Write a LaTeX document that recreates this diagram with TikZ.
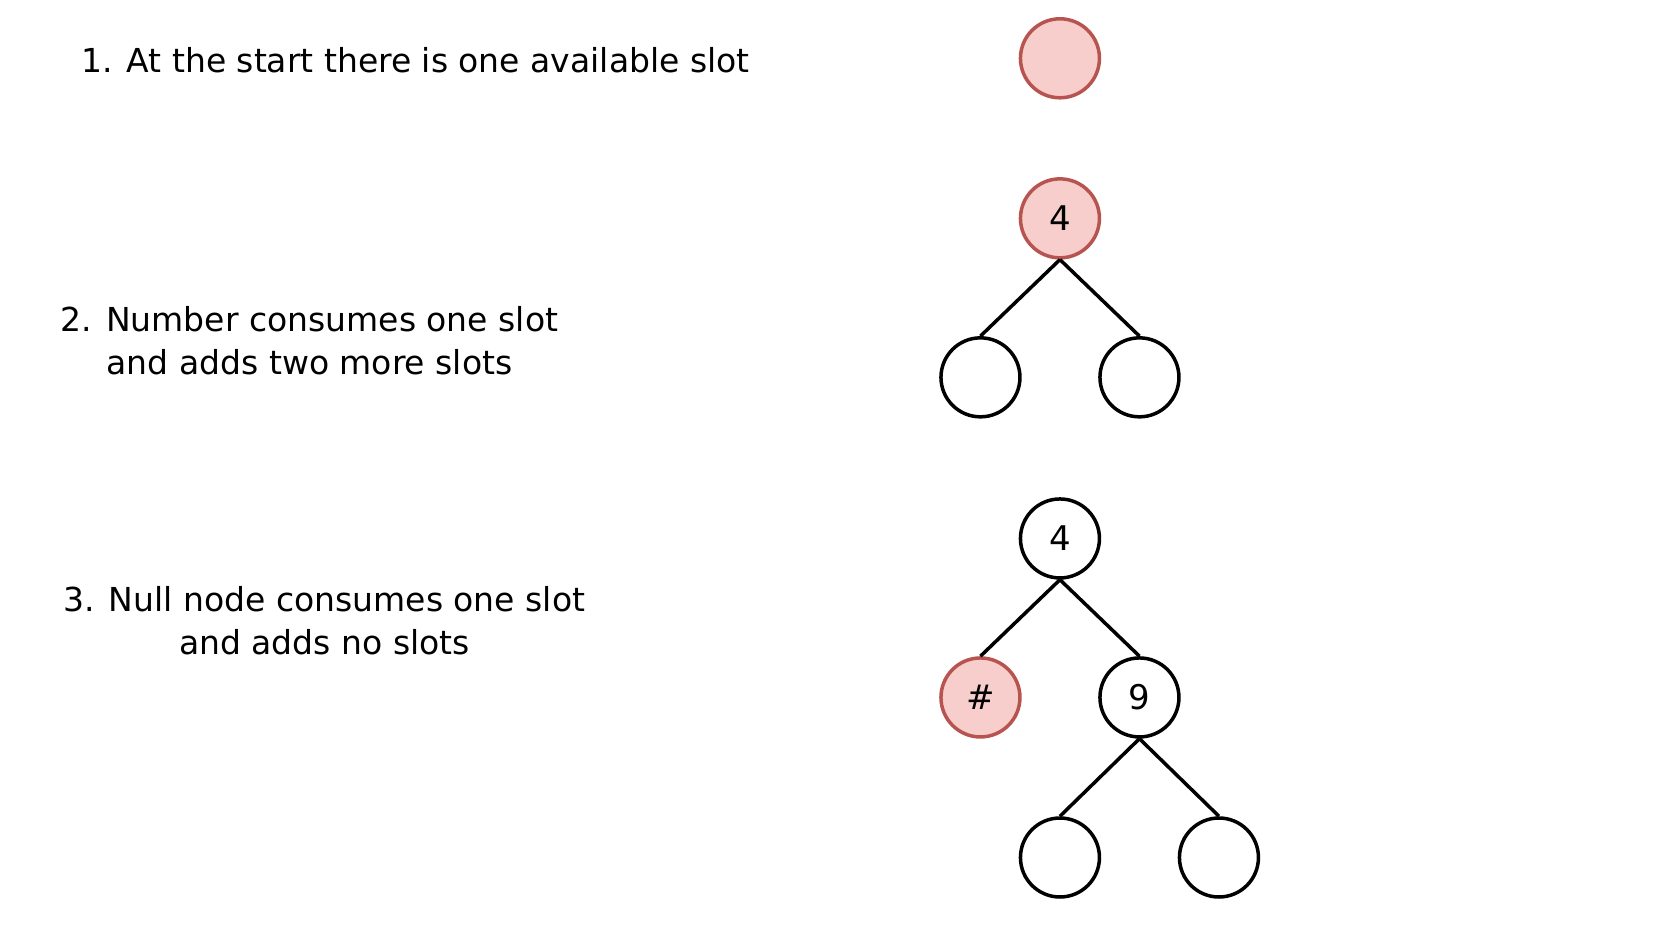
\documentclass[tikz,border=0pt]{standalone}
\usepackage{fontspec}
\setmainfont{DejaVu Sans}
\definecolor{redfill}{HTML}{F8CECC}
\definecolor{redline}{HTML}{B85450}
\begin{document}
\begin{tikzpicture}[x=1.06pt,y=-1.06pt,
  slot/.style={circle,draw=black,line width=3.5pt,minimum size=79pt,inner sep=0pt,fill=white,font=\fontsize{34}{40}\selectfont},
  hot/.style={slot,draw=redline,fill=redfill},
  edge/.style={line width=3.5pt},
  lbl/.style={align=center,font=\fontsize{33}{43}\selectfont,inner sep=0pt}]
\useasboundingbox (0,0) rectangle (1568,885);
\node[hot] (a1) at (1000,55) {};
\node[hot] (b1) at (1000,206) {4};
\node[slot] (b2) at (925,356) {};
\node[slot] (b3) at (1075,356) {};
\draw[edge] (b1.south) -- (b2.north);
\draw[edge] (b1.south) -- (b3.north);
\node[slot] (c1) at (1000,508) {4};
\node[hot] (c2) at (925,658) {\#};
\node[slot] (c3) at (1075,658) {9};
\node[slot] (c4) at (1000,809) {};
\node[slot] (c5) at (1150,809) {};
\draw[edge] (c1.south) -- (c2.north);
\draw[edge] (c1.south) -- (c3.north);
\draw[edge] (c3.south) -- (c4.north);
\draw[edge] (c3.south) -- (c5.north);
\node[lbl] (t1) at (392,57) {1. At the start there is one available slot};
\node[lbl] (t2) at (292,321) {2. Number consumes one slot\\and adds two more slots};
\node[lbl] (t3) at (306,586) {3. Null node consumes one slot\\and adds no slots};
\end{tikzpicture}
\end{document}
